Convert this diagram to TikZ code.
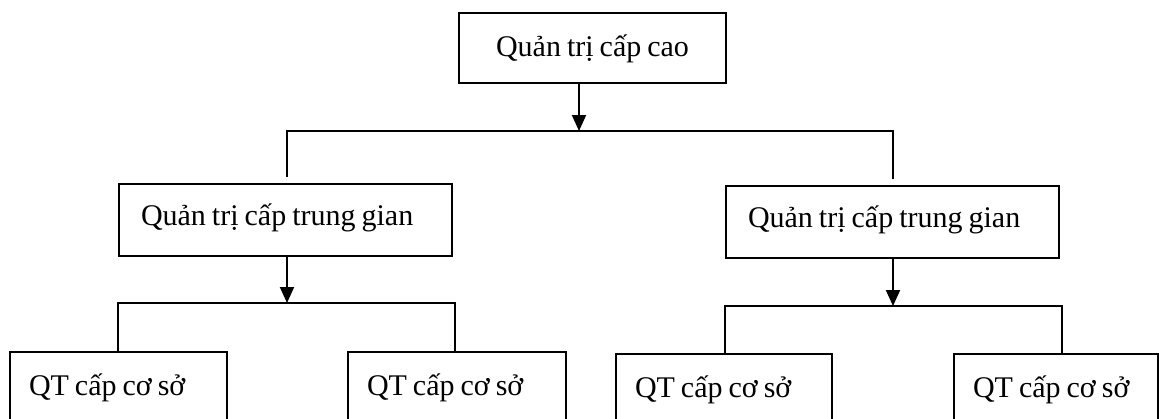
\documentclass[tikz,border=0pt]{standalone}
\usepackage{fontspec}
\setmainfont{Liberation Serif}[WordSpace=0.8]
\usetikzlibrary{arrows.meta,calc}

\begin{document}
\begin{tikzpicture}[
  x=1pt, y=-1pt,
  wire/.style={line width=2pt},
  arr/.style={wire, -{Triangle[length=16pt,width=14pt]}},
  box/.style={draw, line width=2pt, rectangle, anchor=north west,
              inner ysep=0pt, font=\fontsize{30}{35}\selectfont},
  topbox/.style={box, inner xsep=0pt, minimum width=267pt,
                 text height=43pt, text depth=27pt},
  midbox/.style={box, inner xsep=22pt, text width=289pt, align=justify,
                 text height=41pt, text depth=31pt},
  basebox/.style={box, inner xsep=19pt, align=justify,
                  text height=43pt, text depth=44pt}
]
\useasboundingbox (0,0) rectangle (1159,418);
\clip (0,0) rectangle (1159,418);

% boxes
\node[topbox] (top) at (458,12) {Quản trị cấp cao};
\node[midbox] (m1) at (118,183) {Quản trị cấp trung gian};
\node[midbox] (m2) at (725,185) {Quản trị cấp trung gian};
\node[basebox, text width=179pt] (c1) at (9,351)   {QT cấp cơ sở};
\node[basebox, text width=180pt] (c2) at (347,351) {QT cấp cơ sở};
\node[basebox, text width=178pt] (c3) at (615,353) {QT cấp cơ sở};
\node[basebox, text width=166pt] (c4) at (953,353) {QT cấp cơ sở};

% bus junctions
\coordinate (t)  at (579,131);
\coordinate (tl) at (287,131);
\coordinate (tr) at (893,131);
\coordinate (l)  at (287,303);
\coordinate (ll) at (118,303);
\coordinate (lr) at (455,303);
\coordinate (r)  at (893,306);
\coordinate (rl) at (725,306);
\coordinate (rr) at (1062,306);

% top level
\draw[arr] (top.south -| t) -- (t);
\draw[wire] ($(m1.north -| tl)+(0pt,6pt)$) -- (tl) -- (tr)
            -- ($(m2.north -| tr)+(0pt,6pt)$);

% left branch
\draw[arr] (m1.south -| l) -- (l);
\draw[wire] (c1.north -| ll) -- (ll) -- (lr) -- (c2.north -| lr);

% right branch
\draw[arr] (m2.south -| r) -- (r);
\draw[wire] (c3.north -| rl) -- (rl) -- (rr) -- (c4.north -| rr);
\end{tikzpicture}
\end{document}
